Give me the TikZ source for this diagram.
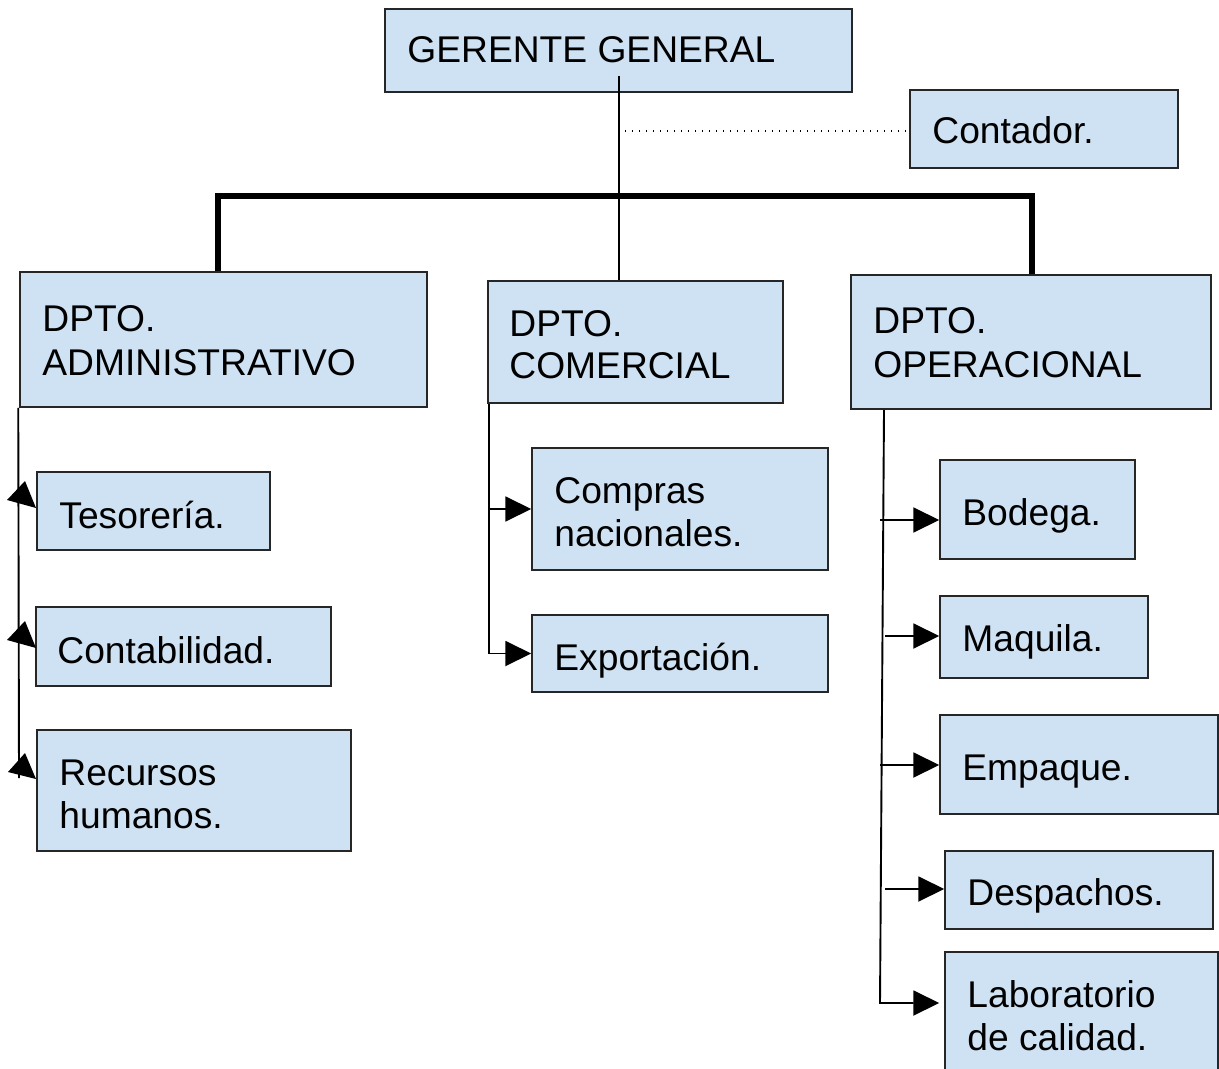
\documentclass[tikz,border=0pt]{standalone}
\usepackage{fontspec}
\setmainfont{Liberation Sans}
\usetikzlibrary{fit,arrows.meta}
\definecolor{boxfill}{HTML}{CFE2F3}
\begin{document}
\begin{tikzpicture}[x=0.5pt,y=-0.5pt,
  box/.style={draw=black!85,line width=0.75pt,fill=boxfill,inner sep=0pt},
  txt/.style={inner sep=0pt,anchor=base west,font=\fontsize{18.6pt}{21.5pt}\selectfont},
  link/.style={draw=black,line width=0.95pt},
  bus/.style={draw=black,line width=2.6pt},
  dotline/.style={draw=black,line width=0.7pt,dash pattern=on 0.7pt off 2.8pt},
  head/.style={-{Triangle[length=13pt,width=12.5pt]}},
]
\useasboundingbox (0,0) rectangle (1219,1069);

% boxes
\node[box,fit={(385,9)(852,92)}]    (gg)    {};
\node[box,fit={(910,90)(1178,168)}] (cont)  {};
\node[box,fit={(20,272)(427,407)}]  (dadm)  {};
\node[box,fit={(488,281)(783,403)}] (dcom)  {};
\node[box,fit={(851,275)(1211,409)}] (dop)  {};
\node[box,fit={(37,472)(270,550)}]  (tes)   {};
\node[box,fit={(36,607)(331,686)}]  (conta) {};
\node[box,fit={(37,730)(351,851)}]  (rrhh)  {};
\node[box,fit={(532,448)(828,570)}] (comp)  {};
\node[box,fit={(532,615)(828,692)}] (expo)  {};
\node[box,fit={(940,460)(1135,559)}] (bod)  {};
\node[box,fit={(940,596)(1148,678)}] (maq)  {};
\node[box,fit={(940,715)(1218,814)}] (emp)  {};
\node[box,fit={(945,851)(1213,929)}] (desp) {};
\node[box,fit={(945,952)(1218,1085)}] (lab) {};

% labels
\node[txt] (gg-t)    at (407,63)   {GERENTE GENERAL};
\node[txt] (cont-t)  at (932,144)  {Contador.};
\node[txt] (dadm-t1) at (42,331)   {DPTO.};
\node[txt] (dadm-t2) at (42,375)   {ADMINISTRATIVO};
\node[txt] (dcom-t1) at (509,336)  {DPTO.};
\node[txt] (dcom-t2) at (509,379)  {COMERCIAL};
\node[txt] (dop-t1)  at (873,334)  {DPTO.};
\node[txt] (dop-t2)  at (873,377)  {OPERACIONAL};
\node[txt] (tes-t)   at (59,528)   {Tesorería.};
\node[txt] (conta-t) at (57,663)   {Contabilidad.};
\node[txt] (rrhh-t1) at (59,785)   {Recursos};
\node[txt] (rrhh-t2) at (59,828)   {humanos.};
\node[txt] (comp-t1) at (554,503)  {Compras};
\node[txt] (comp-t2) at (554,546)  {nacionales.};
\node[txt] (expo-t)  at (554,670)  {Exportación.};
\node[txt] (bod-t)   at (962,525)  {Bodega.};
\node[txt] (maq-t)   at (962,651)  {Maquila.};
\node[txt] (emp-t)   at (962,780)  {Empaque.};
\node[txt] (desp-t)  at (967,905)  {Despachos.};
\node[txt] (lab-t1)  at (967,1007) {Laboratorio};
\node[txt] (lab-t2)  at (967,1050) {de calidad.};

% main bus to the departments
\coordinate (busL) at (218,196);
\coordinate (busR) at (1032,196);
\draw[bus] (busL |- dadm.north) -- (busL) -- (busR) -- (busR |- dop.north);

% stem from the manager and the dotted advisory line
\coordinate (ggStem) at (619,76);
\draw[link] (ggStem) -- (ggStem |- dcom.north);
\coordinate (dotStart) at (625,131);
\draw[dotline] (dotStart) -- (dotStart -| cont.west);

% administrative branch
\coordinate (admEnd) at (19,778);
\draw[link] ([xshift=-0.5pt]dadm.south west) -- (admEnd);
\fill (25,481) -- (7,500) -- (36,508) -- cycle;
\fill (25,621) -- (7,640) -- (36,648) -- cycle;
\fill (25,753) -- (8,772) -- (36,779) -- cycle;

% commercial branch
\coordinate (comTop) at ([xshift=1pt]dcom.south west);
\draw[link,head] (comTop) |- (expo.west);
\draw[link,head] (comTop |- comp.west) -- (comp.west);

% operational branch
\coordinate (opTop) at (884,410);
\coordinate (opBot) at (880,1003);
\coordinate (labIn) at ([xshift=-2.5pt]lab.west);
\draw[link,head] (opTop) -- (opBot) -- (labIn |- opBot);
\coordinate (opA) at (880,520);
\coordinate (opB) at (885,636);
\coordinate (opC) at (880,765);
\coordinate (opD) at (885,889);
\draw[link,head] (opA) -- (opA -| bod.west);
\draw[link,head] (opB) -- (opB -| maq.west);
\draw[link,head] (opC) -- (opC -| emp.west);
\draw[link,head] (opD) -- (opD -| desp.west);
\end{tikzpicture}
\end{document}
